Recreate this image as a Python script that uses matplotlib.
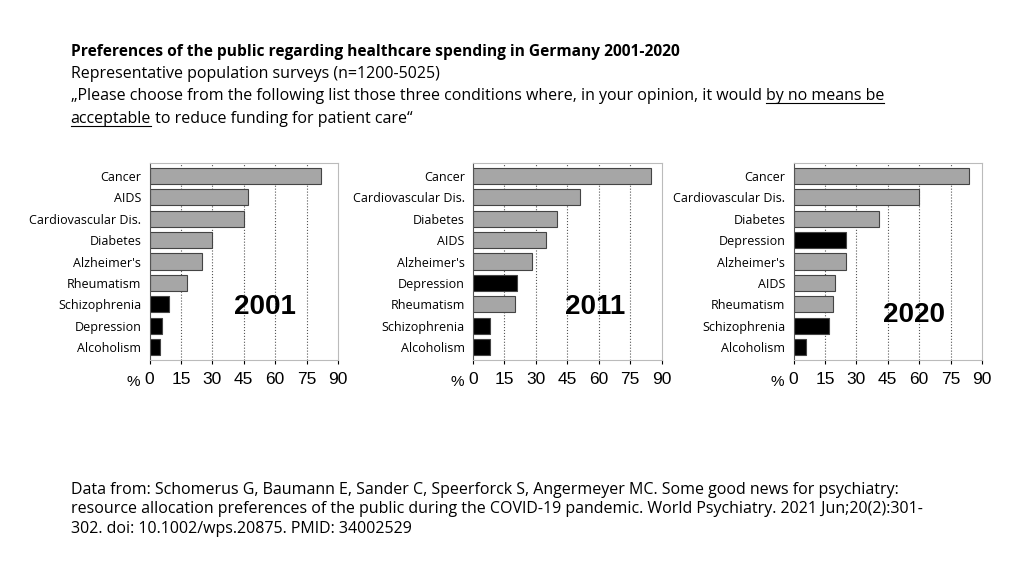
import matplotlib
matplotlib.use("Agg")
import matplotlib.pyplot as plt
from matplotlib.lines import Line2D

plt.rcParams["font.family"] = ["Open Sans", "DejaVu Sans"]

GRAY = "#a6a6a6"
BLACK = "#000000"

# data per survey year (top to bottom)
labels_2001 = ["Cancer", "AIDS", "Cardiovascular Dis.", "Diabetes", "Alzheimer's",
               "Rheumatism", "Schizophrenia", "Depression", "Alcoholism"]
values_2001 = [82, 47, 45, 30, 25, 18, 9.5, 6, 5]
mental_2001 = [0, 0, 0, 0, 0, 0, 1, 1, 1]

labels_2011 = ["Cancer", "Cardiovascular Dis.", "Diabetes", "AIDS", "Alzheimer's",
               "Depression", "Rheumatism", "Schizophrenia", "Alcoholism"]
values_2011 = [85, 51, 40, 35, 28, 21, 20, 8, 8]
mental_2011 = [0, 0, 0, 0, 0, 1, 0, 1, 1]

labels_2020 = ["Cancer", "Cardiovascular Dis.", "Diabetes", "Depression", "Alzheimer's",
               "AIDS", "Rheumatism", "Schizophrenia", "Alcoholism"]
values_2020 = [84, 60, 41, 25, 25, 20, 19, 17, 6]
mental_2020 = [0, 0, 0, 1, 0, 0, 0, 1, 1]

ticks = [0, 15, 30, 45, 60, 75, 90]

fig = plt.figure(figsize=(10.24, 5.76), dpi=100)

panels = [
    (0.146, labels_2001, values_2001, mental_2001, "2001", (0.61, 0.27)),
    (0.462, labels_2011, values_2011, mental_2011, "2011", (0.65, 0.27)),
    (0.775, labels_2020, values_2020, mental_2020, "2020", (0.64, 0.23)),
]

for left, labels, values, mental, year, ypos in panels:
    ax = fig.add_axes([left, 0.375, 0.184, 0.342])
    y = list(range(len(labels)))[::-1]
    colors = [BLACK if m else GRAY for m in mental]
    ax.barh(y, values, height=0.75, color=colors, edgecolor="#444444", linewidth=0.8)
    ax.set_xlim(0, 90)
    ax.set_ylim(-0.6, len(labels) - 0.4)
    ax.set_yticks(y)
    ax.set_yticklabels(labels, fontsize=9)
    ax.set_xticks(ticks)
    ax.set_xticklabels([str(t) for t in ticks], fontsize=12.5, family=["Liberation Sans"])
    ax.tick_params(axis="y", length=0, pad=6)
    ax.tick_params(axis="x", length=3, pad=6)
    for t in ticks[1:-1]:
        ax.axvline(t, color="#555555", linestyle=":", linewidth=0.8, zorder=0)
    for s in ["top", "right", "bottom"]:
        ax.spines[s].set_color("#bbbbbb")
    ax.spines["left"].set_color("#555555")
    ax.text(-0.05, -0.11, "%", transform=ax.transAxes, ha="right", va="center",
            fontsize=11, family=["Liberation Sans"])
    ax.text(ypos[0], ypos[1], year, transform=ax.transAxes, ha="center", va="center",
            fontsize=20, fontweight="bold", family=["Liberation Sans"])

# header text
fig.text(0.069, 0.902, "Preferences of the public regarding healthcare spending in Germany 2001-2020",
         fontsize=11.2, fontweight="bold")
fig.text(0.069, 0.864, "Representative population surveys (n=1200-5025)", fontsize=11.5)

fig.canvas.draw()
r = fig.canvas.get_renderer()
inv = fig.transFigure.inverted()


def put(x, y, s, underline=False):
    t = fig.text(x, y, s, fontsize=11.5)
    bb = t.get_window_extent(renderer=r)
    (x0, y0), (x1, y1) = inv.transform([[bb.x0, bb.y0], [bb.x1, bb.y1]])
    if underline:
        fig.add_artist(Line2D([x0, x1], [y0 + 0.002, y0 + 0.002], color="black",
                              linewidth=0.8, transform=fig.transFigure))
    return x1


xe = put(0.069, 0.826, "„Please choose from the following list those three conditions where, in your opinion, it would ")
put(xe, 0.826, "by no means be", underline=True)
xe = put(0.069, 0.787, "acceptable", underline=True)
put(xe, 0.787, " to reduce funding for patient care“")

fig.text(0.069, 0.075,
         "Data from: Schomerus G, Baumann E, Sander C, Speerforck S, Angermeyer MC. Some good news for psychiatry:\n"
         "resource allocation preferences of the public during the COVID-19 pandemic. World Psychiatry. 2021 Jun;20(2):301-\n"
         "302. doi: 10.1002/wps.20875. PMID: 34002529",
         fontsize=11.5, linespacing=1.3)

fig.savefig("out.png", dpi=100)
